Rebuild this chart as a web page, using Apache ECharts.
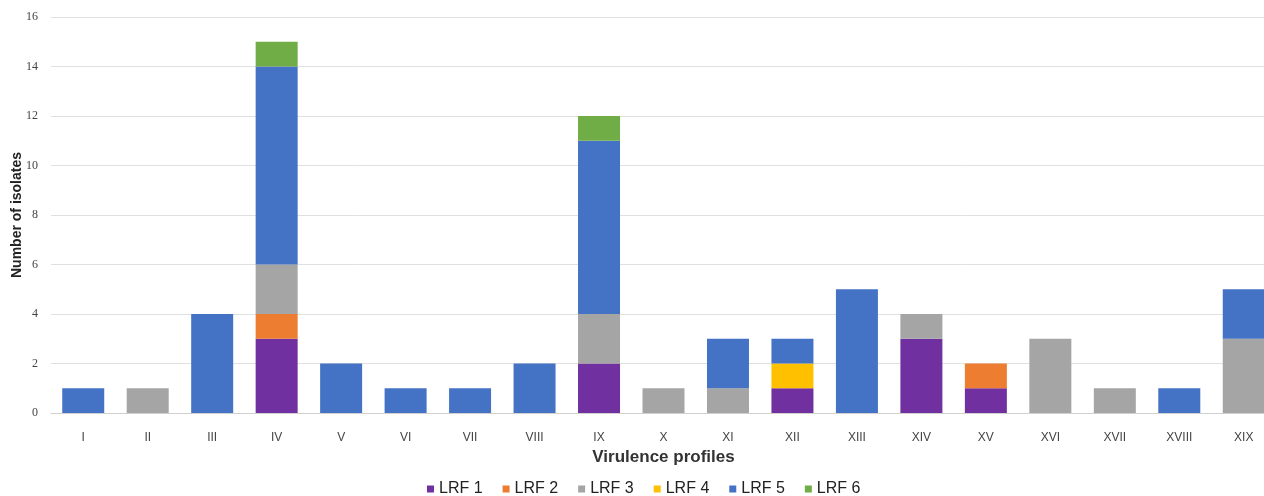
<!DOCTYPE html>
<html><head><meta charset="utf-8">
<script src="https://cdn.jsdelivr.net/npm/echarts@6/dist/echarts.min.js"></script>
<style>html,body{margin:0;padding:0;background:#fff}#c{width:1264px;height:496px}</style>
</head><body><div id="c"></div>
<script>
const categories = ['I','II','III','IV','V','VI','VII','VIII','IX','X','XI','XII','XIII','XIV','XV','XVI','XVII','XVIII','XIX'];
const seriesNames = ['LRF 1','LRF 2','LRF 3','LRF 4','LRF 5','LRF 6'];
const lrf1 = [0,0,0,3,0,0,0,0,2,0,0,1,0,3,1,0,0,0,0];
const lrf2 = [0,0,0,1,0,0,0,0,0,0,0,0,0,0,1,0,0,0,0];
const lrf3 = [0,1,0,2,0,0,0,0,2,1,1,0,0,1,0,3,1,0,3];
const lrf4 = [0,0,0,0,0,0,0,0,0,0,0,1,0,0,0,0,0,0,0];
const lrf5 = [1,0,4,8,2,1,1,2,7,0,2,1,5,0,0,0,0,1,2];
const lrf6 = [0,0,0,1,0,0,0,0,1,0,0,0,0,0,0,0,0,0,0];
const colors = ['#7030A0','#ED7D31','#A5A5A5','#FFC000','#4472C4','#70AD47'];
const allData = [lrf1,lrf2,lrf3,lrf4,lrf5,lrf6];

const chart = echarts.init(document.getElementById('c'));
chart.setOption({
  animation:false,
  color: colors,
  grid:{left:51,right:-12,top:17,bottom:83,containLabel:false,outerBoundsMode:'none'},
  legend:{top:476,left:422,itemWidth:7,itemHeight:7,itemGap:20,icon:'rect',
    textStyle:{fontFamily:'Liberation Sans, Arial',fontSize:16,color:'#222'},data:seriesNames},
  xAxis:{type:'category',data:categories,
    name:'Virulence profiles',nameLocation:'middle',nameGap:26,
    nameTextStyle:{fontFamily:'Liberation Sans, Arial',fontWeight:'bold',fontSize:17,color:'#333'},
    axisLine:{lineStyle:{color:'#d0d0d0'}},axisTick:{show:false},
    axisLabel:{fontFamily:'Liberation Sans, Arial',fontSize:12,color:'#444',margin:19}},
  yAxis:{type:'value',min:0,max:16,interval:2,
    name:'Number of isolates',nameLocation:'middle',nameGap:27,nameMoveOverlap:false,
    nameTextStyle:{fontFamily:'Liberation Sans, Arial',fontWeight:'bold',fontSize:14,color:'#222'},
    axisLabel:{fontFamily:'Liberation Serif, Times New Roman',fontSize:12,color:'#444',margin:13},
    splitLine:{lineStyle:{color:'#e0e0e0'}}},
  series: seriesNames.map((n,i)=>({name:n,type:'bar',stack:'s',barWidth:42,
    data: allData[i].map(v=>v===0?null:v)}))
});
</script></body></html>
